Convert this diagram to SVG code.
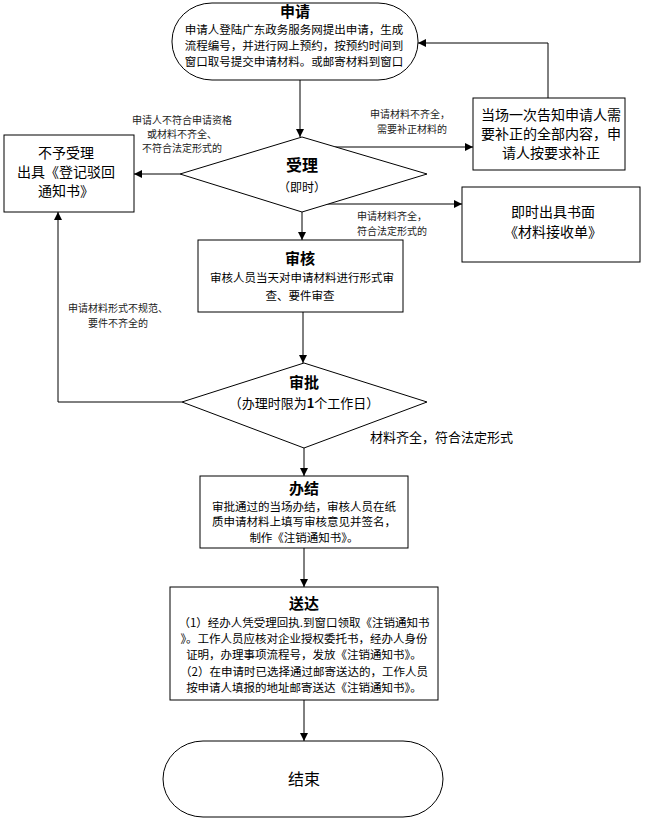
<svg xmlns="http://www.w3.org/2000/svg" width="652" height="818" viewBox="0 0 652 818">
<defs>
<marker id="ah" viewBox="0 0 10 10" refX="10" refY="5" markerWidth="8" markerHeight="8" markerUnits="userSpaceOnUse" orient="auto"><path d="M0,0 L10,5 L0,10 z" fill="#000"/></marker>
<style>
.s{fill:#fff;stroke:#000;stroke-width:1}
.l{fill:none;stroke:#000;stroke-width:1}
text{font-family:"Noto Sans CJK SC","Liberation Sans",sans-serif;fill:#000;text-anchor:middle}
.t{font-size:15px;font-weight:bold}
.b{font-size:11.5px}
.m{font-size:14px}
.lb{font-size:10px;fill:#222}
</style>
</defs>
<rect width="652" height="818" fill="#fff"/>
<g id="connectors">
<path class="l" d="M300,80 V137" marker-end="url(#ah)"/>
<path class="l" d="M180,174 H134" marker-end="url(#ah)"/>
<path class="l" d="M335,147 H473" marker-end="url(#ah)"/>
<path class="l" d="M548,98 V43 H418" marker-end="url(#ah)"/>
<path class="l" d="M325,204 H462" marker-end="url(#ah)"/>
<path class="l" d="M302,212 V240" marker-end="url(#ah)"/>
<path class="l" d="M303,312 V363" marker-end="url(#ah)"/>
<path class="l" d="M182,402 H58 V212" marker-end="url(#ah)"/>
<path class="l" d="M304,448 V476" marker-end="url(#ah)"/>
<path class="l" d="M304,548 V587" marker-end="url(#ah)"/>
<path class="l" d="M304,700 V741" marker-end="url(#ah)"/>
<text class="lb" x="182" y="124">申请人不符合申请资格</text>
<text class="lb" x="182" y="138">或材料不齐全、</text>
<text class="lb" x="182" y="152">不符合法定形式的</text>
<text class="lb" x="410" y="118">申请材料不齐全，</text>
<text class="lb" x="412" y="133">需要补正材料的</text>
<text class="lb" x="392" y="220">申请材料齐全，</text>
<text class="lb" x="392" y="235">符合法定形式的</text>
<text class="lb" x="118" y="312">申请材料形式不规范、</text>
<text class="lb" x="118" y="327">要件不齐全的</text>
<text x="370" y="442" style="font-size:13px;text-anchor:start">材料齐全，符合法定形式</text>
</g>
<g id="start">
<rect class="s" x="172" y="3" width="246" height="77" rx="40" ry="38"/>
<text class="t" x="295" y="17">申请</text>
<text class="b" x="294" y="34">申请人登陆广东政务服务网提出申请，生成</text>
<text class="b" x="294" y="50">流程编号，并进行网上预约，按预约时间到</text>
<text class="b" x="294" y="66">窗口取号提交申请材料。或邮寄材料到窗口</text>
</g>
<g id="accept">
<polygon class="s" points="302,137 427,174 302,212 180,174"/>
<text class="t" x="302" y="171" style="font-size:16px">受理</text>
<text class="b" x="302" y="192" style="font-size:12px">（即时）</text>
</g>
<g id="reject">
<rect class="s" x="4" y="135" width="130" height="77"/>
<text class="m" x="66" y="158">不予受理</text>
<text class="m" x="66" y="177">出具《登记驳回</text>
<text class="m" x="66" y="196">通知书》</text>
</g>
<g id="supplement">
<rect class="s" x="473" y="98" width="152" height="72"/>
<text class="m" x="551" y="120">当场一次告知申请人需</text>
<text class="m" x="551" y="139">要补正的全部内容，申</text>
<text class="m" x="551" y="158">请人按要求补正</text>
</g>
<g id="receipt">
<rect class="s" x="462" y="187" width="178" height="75"/>
<text class="m" x="553" y="217">即时出具书面</text>
<text class="m" x="553" y="237">《材料接收单》</text>
</g>
<g id="review">
<rect class="s" x="198" y="240" width="205" height="72"/>
<text class="t" x="300" y="264">审核</text>
<text class="b" x="302" y="282">审核人员当天对申请材料进行形式审</text>
<text class="b" x="300" y="300">查、要件审查</text>
</g>
<g id="approve">
<polygon class="s" points="304,363 427,402 304,448 182,402"/>
<text class="t" x="304" y="388">审批</text>
<text x="304" y="408" style="font-size:13px">（办理时限为<tspan font-weight="bold">1</tspan>个工作日）</text>
</g>
<g id="finish">
<rect class="s" x="200" y="476" width="208" height="72"/>
<text class="t" x="304" y="494">办结</text>
<text class="b" x="304" y="511">审批通过的当场办结，审核人员在纸</text>
<text class="b" x="304" y="526">质申请材料上填写审核意见并签名，</text>
<text class="b" x="304" y="542">制作《注销通知书》。</text>
</g>
<g id="deliver">
<rect class="s" x="170" y="587" width="268" height="113"/>
<text class="t" x="304" y="609">送达</text>
<text class="b" x="304" y="627">（1）经办人凭受理回执.到窗口领取《注销通知书</text>
<text class="b" x="304" y="643">》。工作人员应核对企业授权委托书，经办人身份</text>
<text class="b" x="304" y="659">证明，办理事项流程号，发放《注销通知书》。</text>
<text class="b" x="304" y="676">（2）在申请时已选择通过邮寄送达的，工作人员</text>
<text class="b" x="304" y="692">按申请人填报的地址邮寄送达《注销通知书》。</text>
</g>
<g id="end">
<rect class="s" x="163" y="741" width="280" height="76" rx="40" ry="38"/>
<text x="304" y="785" style="font-size:16px">结束</text>
</g>
</svg>
